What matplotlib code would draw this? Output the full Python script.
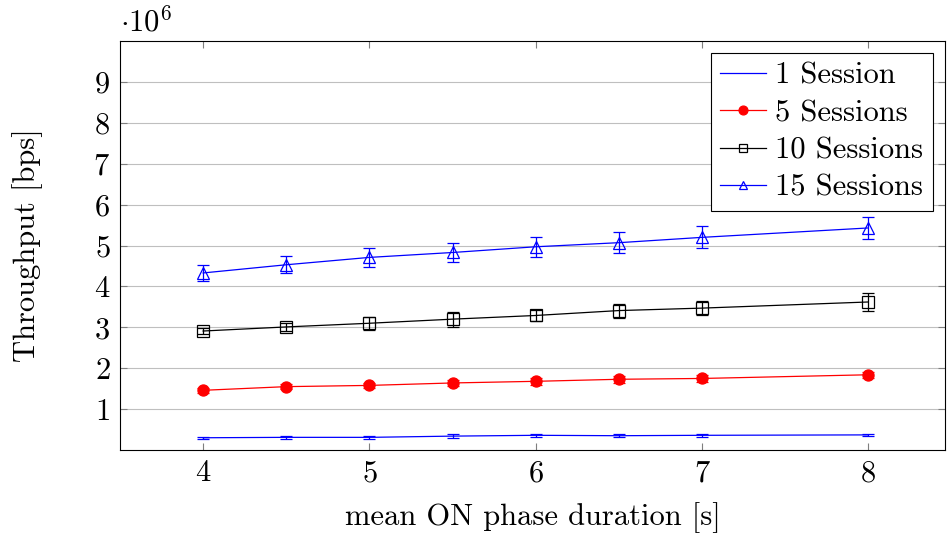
import matplotlib.pyplot as plt

plt.rcParams['font.family'] = 'serif'
plt.rcParams['font.serif'] = ['cmr10']
plt.rcParams['mathtext.fontset'] = 'cm'
plt.rcParams['axes.formatter.use_mathtext'] = True

# mean ON phase duration [s]
durations = [4, 4.5, 5, 5.5, 6, 6.5, 7, 8]

# throughput in units of 1e6 bps, with error half-widths
one_session = [0.30, 0.31, 0.31, 0.34, 0.36, 0.35, 0.36, 0.37]
one_session_err = [0.03, 0.03, 0.03, 0.04, 0.03, 0.03, 0.03, 0.03]
five_sessions = [1.46, 1.55, 1.58, 1.64, 1.68, 1.73, 1.75, 1.84]
five_sessions_err = [0.06, 0.07, 0.07, 0.07, 0.08, 0.08, 0.08, 0.08]
ten_sessions = [2.91, 3.01, 3.10, 3.20, 3.29, 3.41, 3.47, 3.62]
ten_sessions_err = [0.08, 0.09, 0.16, 0.18, 0.14, 0.17, 0.18, 0.22]
fifteen_sessions = [4.33, 4.53, 4.71, 4.83, 4.97, 5.07, 5.20, 5.43]
fifteen_sessions_err = [0.20, 0.21, 0.23, 0.24, 0.25, 0.25, 0.27, 0.27]

series_labels = ['1 Session', '5 Sessions', '10 Sessions', '15 Sessions']
y_ticks = [1, 2, 3, 4, 5, 6, 7, 8, 9]
x_ticks = [4, 5, 6, 7, 8]

fs = 22

fig = plt.figure(figsize=(9.47, 5.36), dpi=100)
ax = fig.add_axes([0.1267, 0.1604, 0.871, 0.763])

lw = 0.9
common = dict(lw=lw, elinewidth=lw, capsize=4, capthick=lw, markeredgewidth=lw)
c1 = ax.errorbar(durations, one_session, yerr=one_session_err, color='blue', **common)
c5 = ax.errorbar(durations, five_sessions, yerr=five_sessions_err, color='red',
                 marker='o', markersize=8, **common)
c10 = ax.errorbar(durations, ten_sessions, yerr=ten_sessions_err, color='black',
                  marker='s', markersize=8, markerfacecolor='none', **common)
c15 = ax.errorbar(durations, fifteen_sessions, yerr=fifteen_sessions_err, color='blue',
                  marker='^', markersize=8, markerfacecolor='none', **common)

ax.set_xlim(3.5, 8.46)
ax.set_ylim(0, 10)
ax.set_xticks(x_ticks)
ax.set_yticks(y_ticks)
ax.yaxis.grid(True, color='#bfbfbf', lw=0.8)
ax.set_axisbelow(True)
ax.tick_params(direction='in', top=True, right=True, labelsize=fs,
               color='#7f7f7f', length=5, width=0.8, pad=7)
for s in ax.spines.values():
    s.set_linewidth(0.8)

ax.set_xlabel('mean ON phase duration [s]', fontsize=fs, labelpad=11)
ax.set_ylabel('Throughput [bps]', fontsize=fs, labelpad=36)
ax.text(0.0, 1.01, r'$\cdot10^{6}$', transform=ax.transAxes, fontsize=fs,
        ha='left', va='bottom')

handles = [c[0] for c in (c1, c5, c10, c15)]
leg = ax.legend(handles, series_labels, loc='upper right', fontsize=fs, fancybox=False,
                framealpha=1, edgecolor='black', handlelength=1.5,
                handletextpad=0.3, borderpad=0.3, labelspacing=0.32,
                borderaxespad=0.4, markerscale=0.8)
leg.get_frame().set_linewidth(0.8)

fig.savefig('out.png', dpi=100)
